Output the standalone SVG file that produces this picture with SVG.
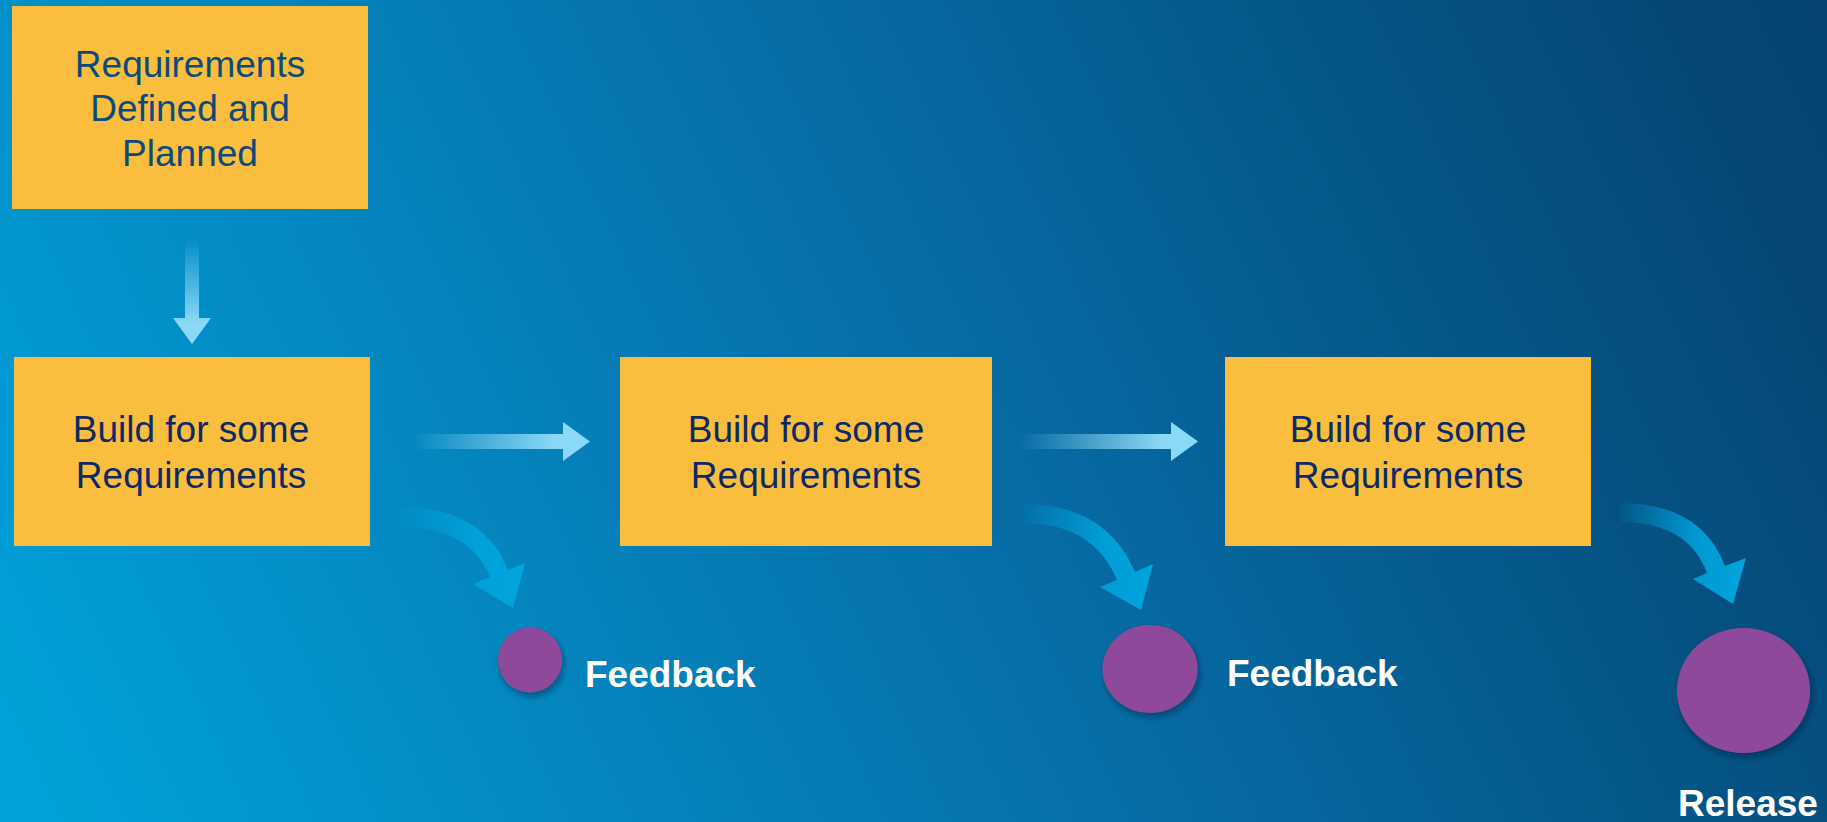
<svg xmlns="http://www.w3.org/2000/svg" width="1827" height="822" viewBox="0 0 1827 822">
  <defs>
    <linearGradient id="bg" gradientUnits="userSpaceOnUse" x1="0" y1="822" x2="1816" y2="-28">
      <stop offset="0" stop-color="#00a3dc"/>
      <stop offset="0.42" stop-color="#0677b0"/>
      <stop offset="0.58" stop-color="#06679f"/>
      <stop offset="0.69" stop-color="#055c8f"/>
      <stop offset="0.93" stop-color="#044776"/>
      <stop offset="1" stop-color="#044371"/>
    </linearGradient>
    <linearGradient id="gh" x1="0" y1="0" x2="1" y2="0">
      <stop offset="0" stop-color="#8ad9f6" stop-opacity="0"/>
      <stop offset="0.8" stop-color="#8ad9f6" stop-opacity="1"/>
      <stop offset="1" stop-color="#8ad9f6"/>
    </linearGradient>
    <linearGradient id="gv" x1="0" y1="0" x2="0" y2="1">
      <stop offset="0" stop-color="#8ad9f6" stop-opacity="0"/>
      <stop offset="0.8" stop-color="#8ad9f6" stop-opacity="1"/>
      <stop offset="1" stop-color="#8ad9f6"/>
    </linearGradient>
    <linearGradient id="gc" x1="0" y1="0" x2="1" y2="0">
      <stop offset="0" stop-color="#00a5de" stop-opacity="0.05"/>
      <stop offset="0.6" stop-color="#00a5de" stop-opacity="0.85"/>
      <stop offset="1" stop-color="#00a5de"/>
    </linearGradient>
    <filter id="sh" x="-30%" y="-30%" width="160%" height="170%">
      <feDropShadow dx="2" dy="4" stdDeviation="3" flood-color="#001830" flood-opacity="0.45"/>
    </filter>
    <style>
      .box { fill: #fabd3e; }
      .t1 { font-family: "Liberation Sans", Arial, sans-serif; font-size: 37px; fill: #0b4a7c; text-anchor: middle; }
      .t2 { font-family: "Liberation Sans", Arial, sans-serif; font-size: 37px; fill: #0c2a66; text-anchor: middle; }
      .lbl { font-family: "Liberation Sans", Arial, sans-serif; font-size: 37px; font-weight: bold; fill: #ffffff; }
      .dot { fill: #8e4a9a; filter: url(#sh); }
    </style>
  </defs>

  <rect x="0" y="0" width="1827" height="822" fill="url(#bg)"/>

  <g id="connectors">
    <path fill="url(#gv)" d="M185,240 L199,240 L199,318 L211,318 L192,344 L173,318 L185,318 Z"/>
    <path fill="url(#gh)" d="M413,434 L563,434 L563,422 L590,441.5 L563,461 L563,449 L413,449 Z"/>
    <path fill="url(#gh)" d="M1020,434 L1171,434 L1171,422 L1198,441.5 L1171,461 L1171,449 L1020,449 Z"/>
    <path fill="url(#gc)" d="M400,507 Q483,507 508,570 L525,563 L513,608 L473,584 L490,577 Q470,527 400,527 Z"/>
    <path fill="url(#gc)" d="M1023,504 Q1106,504 1135,572 L1153,564 L1141,610 L1100,587 L1117,580 Q1093,523 1023,523 Z"/>
    <path fill="url(#gc)" d="M1620,503 Q1701,503 1725,566 L1746,558 L1733,604 L1693,579 L1707,573 Q1688,522 1620,522 Z"/>
  </g>

  <g id="node-plan">
    <rect class="box" x="12" y="6" width="356" height="203"/>
    <text class="t1" x="190" y="77">Requirements</text>
    <text class="t1" x="190" y="121">Defined and</text>
    <text class="t1" x="190" y="166">Planned</text>
  </g>

  <g id="node-build1">
    <rect class="box" x="14" y="357" width="356" height="189"/>
    <text class="t2" x="191" y="442">Build for some</text>
    <text class="t2" x="191" y="488">Requirements</text>
  </g>

  <g id="node-build2">
    <rect class="box" x="620" y="357" width="372" height="189"/>
    <text class="t2" x="806" y="442">Build for some</text>
    <text class="t2" x="806" y="488">Requirements</text>
  </g>

  <g id="node-build3">
    <rect class="box" x="1225" y="357" width="366" height="189"/>
    <text class="t2" x="1408" y="442">Build for some</text>
    <text class="t2" x="1408" y="488">Requirements</text>
  </g>

  <g id="node-feedback1">
    <ellipse class="dot" cx="530" cy="660" rx="32" ry="32.5"/>
    <text class="lbl" x="585" y="687">Feedback</text>
  </g>

  <g id="node-feedback2">
    <ellipse class="dot" cx="1150" cy="669" rx="47.5" ry="44"/>
    <text class="lbl" x="1227" y="686">Feedback</text>
  </g>

  <g id="node-release">
    <ellipse class="dot" cx="1743.5" cy="690.5" rx="66.5" ry="62.5"/>
    <text class="lbl" x="1678" y="816">Release</text>
  </g>
</svg>
